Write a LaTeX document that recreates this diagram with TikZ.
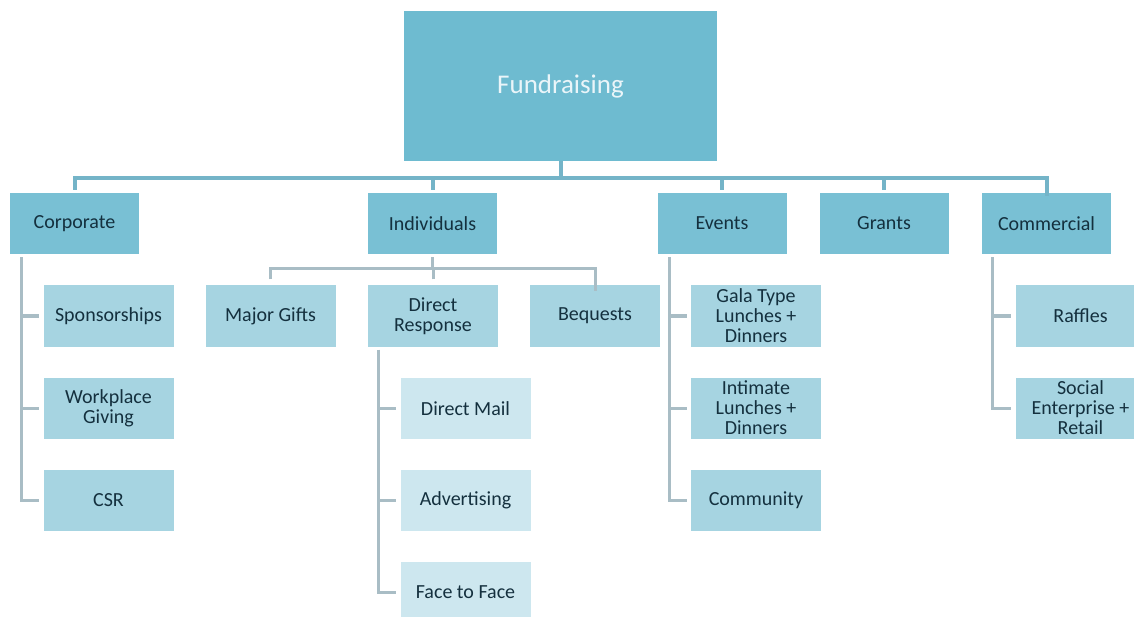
\documentclass[tikz,border=0pt]{standalone}
\usepackage{fontspec}
\setmainfont{Carlito}
\usetikzlibrary{positioning}
\definecolor{headblue}{HTML}{6EBBD0}
\definecolor{groupblue}{HTML}{79C0D4}
\definecolor{itemblue}{HTML}{A6D4E1}
\definecolor{subblue}{HTML}{CDE7EF}
\definecolor{trunkteal}{HTML}{74B4C8}
\definecolor{branchgray}{HTML}{A9BDC5}
\definecolor{ink}{HTML}{14303E}
\definecolor{headtext}{HTML}{EAF5F9}
\tikzstyle{head} = [rectangle, fill=headblue, minimum width=313pt, minimum height=150pt,
    text=headtext, font=\fontsize{27}{30}\selectfont]
\tikzstyle{group} = [rectangle, fill=groupblue, minimum width=129pt, minimum height=61pt,
    text=ink, align=center, font=\fontsize{20}{20}\selectfont]
\tikzstyle{item} = [group, fill=itemblue, minimum width=130pt]
\tikzstyle{subitem} = [group, fill=subblue, minimum width=130pt]
\tikzstyle{trunk} = [draw=trunkteal, line width=4pt]
\tikzstyle{branch} = [draw=branchgray, line width=3pt, shorten <=3pt, shorten >=4pt]

\begin{document}
\begin{tikzpicture}[x=1pt, y=-1pt]
\useasboundingbox (0,0) rectangle (1134,617);
\node[head] (fund) at (560.5,86) {Fundraising};
% main groups
\node[group] (corp) at (74.5,223.5) {Corporate};
\node[group, right of = corp, node distance = 358pt] (indiv) {Individuals};
\node[group, right of = indiv, node distance = 289.5pt] (events) {Events};
\node[group, right of = events, node distance = 162pt] (grants) {Grants};
\node[group, right of = grants, node distance = 162.5pt] (comm) {Commercial};
\draw[trunk] (fund.south) -- ++(0,17) coordinate (hub);
\draw[trunk, shorten <=3pt] (corp.north) |- (hub) -| ([yshift=-3pt]comm.north);
\draw[trunk, shorten <=3pt] (indiv.north) -- (indiv.north |- hub);
\draw[trunk, shorten <=3pt] (events.north) -- (events.north |- hub);
\draw[trunk, shorten <=3pt] (grants.north) -- (grants.north |- hub);
% corporate
\node[item] (spons) at (108.5,316) {Sponsorships};
\node[item, below of = spons, node distance = 92pt] (work) {Workplace\\Giving};
\node[item, below of = work, node distance = 92pt] (csr) {CSR};
\draw[branch] ([xshift=12pt]corp.south west) |- (csr.west);
\foreach \n in {spons,work}
  \draw[branch, shorten <=0pt] ([xshift=12pt]corp.south west |- \n.west) -- (\n.west);
% individuals
\node[item] (major) at (270.5,316) {Major Gifts};
\node[item, right of = major, node distance = 162.5pt] (dresp) {Direct\\Response};
\node[item, right of = dresp, node distance = 162pt] (beq) {Bequests};
\draw[branch, shorten >=0pt] (indiv.south) -- ++(0,14) coordinate (ihub);
\draw[branch, shorten <=6pt, shorten >=0pt] (major.north) |- (ihub) -| ([yshift=-6pt]beq.north);
\draw[branch, shorten <=6pt, shorten >=0pt] (dresp.north) -- (dresp.north |- ihub);
\node[subitem] (mail) at (465.5,408.5) {Direct Mail};
\node[subitem, below of = mail, node distance = 92pt] (adv) {Advertising};
\node[subitem, below of = adv, node distance = 92pt] (face) {Face to Face};
\draw[branch] ([xshift=11pt]dresp.south west) |- (face.west);
\foreach \n in {mail,adv}
  \draw[branch, shorten <=0pt] ([xshift=11pt]dresp.south west |- \n.west) -- (\n.west);
% events
\node[item] (gala) at (756,316) {Gala Type\\Lunches +\\Dinners};
\node[item, below of = gala, node distance = 92pt] (intim) {Intimate\\Lunches +\\Dinners};
\node[item, below of = intim, node distance = 92pt] (commun) {Community};
\draw[branch] ([xshift=12pt]events.south west) |- (commun.west);
\foreach \n in {gala,intim}
  \draw[branch, shorten <=0pt] ([xshift=12pt]events.south west |- \n.west) -- (\n.west);
% commercial
\node[item] (raff) at (1080.5,316) {Raffles};
\node[item, below of = raff, node distance = 92pt] (social) {Social\\Enterprise +\\Retail};
\draw[branch] ([xshift=11pt]comm.south west) |- (social.west);
\draw[branch, shorten <=0pt] ([xshift=11pt]comm.south west |- raff.west) -- (raff.west);
\end{tikzpicture}
\end{document}
